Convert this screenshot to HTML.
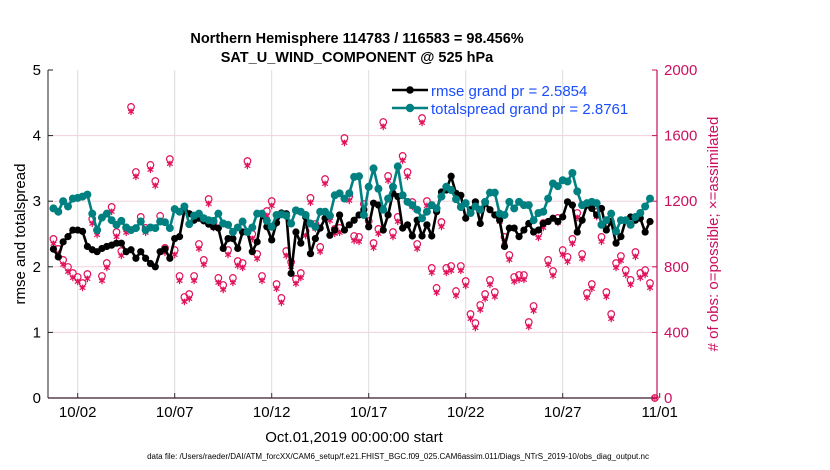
<!DOCTYPE html>
<html><head><meta charset="utf-8"><style>
body{margin:0;background:#fff;}
svg{display:block;font-family:"Liberation Sans",sans-serif;}
</style></head><body>
<svg id="chart" width="830" height="470" viewBox="0 0 830 470" xmlns="http://www.w3.org/2000/svg">
<rect width="830" height="470" fill="#fff"/>
<g id="grid"></g>
<g id="axes"></g>
<g id="obs"></g>
<g id="series"></g>
<text x="357" y="43" font-size="14.5" font-weight="bold" text-anchor="middle">Northern Hemisphere 114783 / 116583 = 98.456%</text>
<text x="357" y="62" font-size="14.5" font-weight="bold" text-anchor="middle">SAT_U_WIND_COMPONENT @ 525 hPa</text>
<text transform="translate(25,234) rotate(-90)" font-size="15" text-anchor="middle">rmse and totalspread</text>
<text transform="translate(718,234) rotate(-90)" font-size="15" fill="#cc1060" text-anchor="middle"># of obs: o=possible; ×=assimilated</text>
<text x="354" y="442" font-size="15" text-anchor="middle">Oct.01,2019 00:00:00 start</text>
<text x="398" y="459" font-size="8" text-anchor="middle">data file: /Users/raeder/DAI/ATM_forcXX/CAM6_setup/f.e21.FHIST_BGC.f09_025.CAM6assim.011/Diags_NTrS_2019-10/obs_diag_output.nc</text>
<g>
  <g>
    <line x1="392" y1="90" x2="428" y2="90" stroke="#000" stroke-width="2.4"/>
    <circle cx="410" cy="90" r="3.8" fill="#000"/>
    <text x="431" y="96" font-size="15" fill="#1a4dff">rmse grand pr = 2.5854</text>
  </g>
  <g>
    <line x1="392" y1="108" x2="428" y2="108" stroke="#008080" stroke-width="2.4"/>
    <circle cx="410" cy="108" r="4.2" fill="#008080"/>
    <text x="431" y="114" font-size="15" fill="#1a4dff">totalspread grand pr = 2.8761</text>
  </g>
</g>
</svg>
<script>
const rmse=[2.27,2.15,2.38,2.46,2.56,2.56,2.54,2.31,2.26,2.23,2.28,2.31,2.33,2.36,2.36,2.23,2.26,2.13,2.23,2.13,2.05,2.0,2.23,2.27,2.13,2.43,2.46,2.86,2.81,2.71,2.74,
2.7,2.65,2.61,2.59,2.28,2.43,2.43,2.28,2.53,2.53,2.23,2.38,2.81,2.61,2.41,2.67,2.82,2.81,1.9,2.53,2.36,2.76,2.2,2.43,2.59,2.74,2.48,2.56,
2.79,2.56,2.64,2.71,2.79,2.87,2.61,2.97,2.94,2.56,2.79,3.12,3.07,2.59,2.64,2.47,2.71,2.47,2.64,2.47,2.84,3.14,3.17,3.38,3.12,3.09,2.74,2.87,2.99,2.66,2.97,2.87,2.79,2.71,2.31,2.59,2.59,2.46,2.56,2.66,2.53,2.56,2.66,2.69,2.74,2.69,2.76,2.99,2.94,2.53,2.71,2.94,2.89,2.79,2.89,2.56,2.69,2.36,2.46,2.71,2.76,2.71,2.74,2.53,2.69];
const spread=[2.89,2.84,3.0,2.92,3.04,3.05,3.07,3.1,2.81,2.56,2.75,2.81,2.71,2.64,2.7,2.6,2.56,2.59,2.69,2.56,2.6,2.59,2.69,2.68,2.59,2.88,2.84,2.92,2.65,2.78,
2.81,2.74,2.71,2.7,2.81,2.66,2.64,2.53,2.6,2.69,2.53,2.6,2.81,2.81,2.7,2.61,2.79,2.8,2.78,2.66,2.86,2.84,2.79,2.66,2.61,2.84,2.84,2.78,3.09,
3.12,3.04,3.12,3.37,3.38,2.79,3.22,3.50,3.19,2.87,3.04,3.22,3.53,3.09,2.99,2.94,2.87,2.74,2.84,2.94,2.89,3.07,3.22,3.17,3.03,2.91,2.97,2.82,2.92,2.87,2.99,3.13,3.13,2.81,2.79,2.99,2.89,2.99,2.94,2.94,2.71,2.82,2.84,3.04,3.27,3.23,3.32,3.30,3.43,3.15,2.94,2.97,2.99,2.97,2.64,2.71,2.81,2.54,2.71,2.71,2.64,2.76,2.82,2.92,3.04];
const obsPossible=[970,909,842,799,762,738,701,756,1092,1024,744,823,1165,1012,896,1037,1775,1378,1104,1037,1421,1323,1110,915,1457,902,744,616,634,744,939,
842,1213,1067,732,689,902,732,835,823,1445,1000,878,744,1140,1201,695,610,896,829,726,762,1018,1220,1061,921,1335,1110,1031,1037,1585,1232,
988,982,1183,1079,945,1031,1683,1354,1012,1104,1476,1378,1195,939,1707,1201,793,671,1073,793,805,652,805,713,512,457,567,634,720,646,1104,982,
872,738,750,750,463,561,1006,1067,842,774,1098,902,860,970,1128,878,640,695,1134,982,646,512,823,866,780,720,890,762,780,701,0];
const obsAssim=[940,879,812,769,732,708,671,726,1062,994,714,793,1135,982,866,1007,1745,1348,1074,1007,1391,1293,1080,885,1427,872,714,586,604,714,909,
812,1183,1037,702,659,872,702,805,793,1415,970,848,714,1110,1171,665,580,866,799,696,732,988,1190,1031,891,1305,1080,1001,1007,1555,1202,
958,952,1153,1049,915,1001,1653,1324,982,1074,1446,1348,1165,909,1677,1171,763,641,1043,763,775,622,775,683,482,427,537,604,690,616,1074,952,
842,708,720,720,433,531,976,1037,812,744,1068,872,830,940,1098,848,610,665,1104,952,616,482,793,836,750,690,860,732,750,671,0];
const xTickDays=[1,6,11,16,21,26,31];
const xTickLabels=["10/02","10/07","10/12","10/17","10/22","10/27","11/01"];
const yTicks=[0,1,2,3,4,5];
const rTicks=[0,400,800,1200,1600,2000];

const NS="http://www.w3.org/2000/svg";
const L=48,R=657,T=70,B=398;
function xDay(d){return 58.3+19.4*d;}
function xIdx(i){return xDay(i*0.25-0.25);}
function yL(v){return B-(v/5)*(B-T);}
function yR(v){return B-(v/2000)*(B-T);}
function mk(tag,attrs,parent){const e=document.createElementNS(NS,tag);for(const k in attrs)e.setAttribute(k,attrs[k]);parent.appendChild(e);return e;}
const grid=document.getElementById('grid'),axes=document.getElementById('axes'),obs=document.getElementById('obs'),ser=document.getElementById('series');

xTickDays.forEach((d,k)=>{
  const x=xDay(d);
  if(x<R-1){const g=mk('line',{x1:x,y1:T,x2:x,y2:B,stroke:'#dcdcdc','stroke-width':1},grid);
  
  }
  mk('line',{x1:x,y1:B,x2:x,y2:B-5,stroke:'#333'},axes);
  const t=mk('text',{x:x,y:B+19,'font-size':15,'text-anchor':'middle'},axes);
  t.textContent=xTickLabels[k];
  
  
});
yTicks.forEach(v=>{
  const y=yL(v);
  if(v>0&&v<5){const g=mk('line',{x1:L,y1:y,x2:R,y2:y,stroke:'#f3d0dc','stroke-width':1},grid);
  
  }
  mk('line',{x1:L,y1:y,x2:L+5,y2:y,stroke:'#222'},axes);
  const t=mk('text',{x:L-7,y:y+5,'font-size':15,'text-anchor':'end'},axes);
  t.textContent=v;
  
  
});
rTicks.forEach(v=>{
  const y=yR(v);
  mk('line',{x1:R,y1:y,x2:R-5,y2:y,stroke:'#c8105a'},axes);
  const t=mk('text',{x:R+7,y:y+5,'font-size':15,fill:'#cc1060'},axes);
  t.textContent=v;
  
  
});
const la=mk('line',{x1:L,y1:T,x2:L,y2:B,stroke:'#222','stroke-width':1},axes);


const ra=mk('line',{x1:R,y1:T,x2:R,y2:B,stroke:'#c8105a','stroke-width':1.2},axes);


const ba=mk('line',{x1:L,y1:B,x2:R,y2:B,stroke:'#3a1a2a','stroke-width':1.2},axes);



obsPossible.forEach((v,i)=>{
  const x=xIdx(i),y=yR(v);
  const c=mk('circle',{cx:x,cy:y,r:3.3,fill:'none',stroke:'#e0105a','stroke-width':1.2},obs);
  
  
});
obsAssim.forEach((v,i)=>{
  const x=xIdx(i),y=yR(v);
  const g=mk('g',{stroke:'#e0105a','stroke-width':1.2},obs);
  
  
  const s=3.3;
  mk('line',{x1:x,y1:y-s,x2:x,y2:y+s},g);
  mk('line',{x1:x-s*0.87,y1:y-s*0.5,x2:x+s*0.87,y2:y+s*0.5},g);
  mk('line',{x1:x-s*0.87,y1:y+s*0.5,x2:x+s*0.87,y2:y-s*0.5},g);
});

function drawSeries(arr,color,r,name){
  const pts=arr.map((v,i)=>xIdx(i).toFixed(1)+','+yL(v).toFixed(1)).join(' ');
  const g=mk('g',{},ser);
  
  
  const pl=mk('polyline',{points:pts,fill:'none',stroke:color,'stroke-width':2.6,'stroke-linejoin':'round'},g);
  
  
  arr.forEach((v,i)=>{
    const c=mk('circle',{cx:xIdx(i),cy:yL(v),r:r,fill:color},g);
    
    
  });
}
drawSeries(rmse,'#000',3.6,'rmse');
drawSeries(spread,'#008080',4.0,'totalspread');
</script>
</body></html>
